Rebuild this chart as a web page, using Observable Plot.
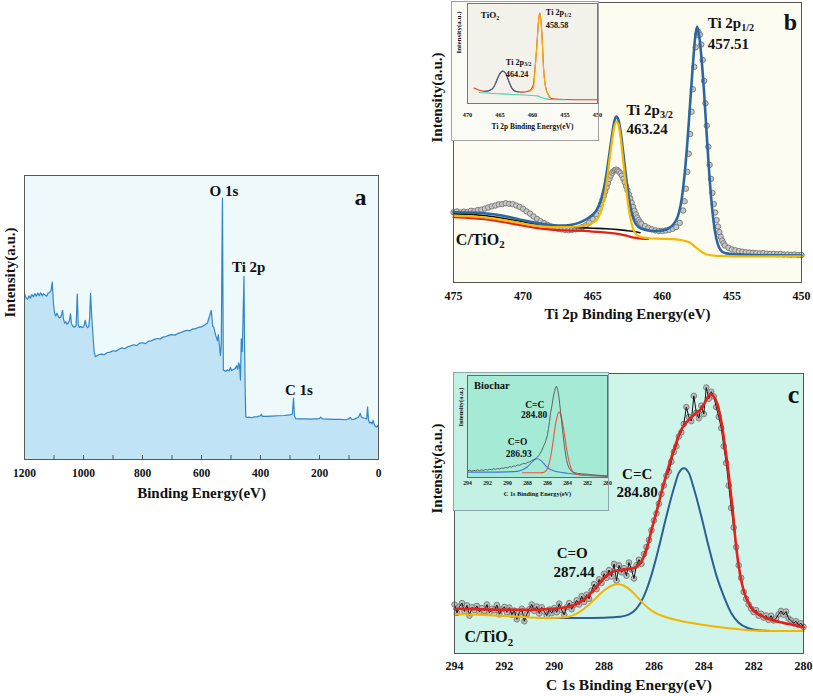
<!DOCTYPE html>
<html><head><meta charset="utf-8">
<script src="https://cdn.jsdelivr.net/npm/d3@7"></script>
<script src="https://cdn.jsdelivr.net/npm/@observablehq/plot@0.6"></script>
<style>
body{margin:0;background:#fff;}
#wrap{position:relative;width:813px;height:696px;overflow:hidden;}
</style></head><body><div id="wrap"></div>
<script>
// ---------------- DATA ----------------
// Panel a: XPS survey (binding energy eV, intensity a.u.)
const surveyPts = [
[1200,58.5],[1195,57],[1190,56.4],[1185,57.6],[1180,56.8],[1175,58.1],[1170,57.3],[1165,58.4],[1160,57.5],[1155,58.6],[1150,57.7],[1145,58.7],[1140,57.6],[1135,58.4],[1130,57.9],[1125,57.5],[1120,58.6],[1115,58.8],[1110,59.5],[1106,62.5],[1102,55],[1098,51.5],[1094,50.5],[1090,51.5],[1086,50.5],[1082,49.8],[1078,50],[1074,51],[1071,52.5],[1068,49.5],[1064,48],[1060,48.5],[1056,47.6],[1052,48],[1048,48.8],[1044,51.3],[1041,48],[1037,47],[1033,46.6],[1029,46.8],[1025,47],[1021,58.2],[1018,47.5],[1014,46.5],[1010,46.8],[1006,46.6],[1002,46.5],[998,47.2],[994,49],[990,47],[986,46.4],[982,46.8],[979,50],[976,58.5],[972,50],[968,44],[964,38],[960,36.2],
[950,36.8],[940,37.1],[930,36.9],[920,37.6],[910,37.8],[900,38.3],[890,38.1],[880,38.8],[870,39.3],[860,39],[850,39.7],[840,40],[830,40.4],[820,40.1],[810,40.9],[800,41.1],[790,40.8],[780,41.6],[770,41.8],[760,42.3],[750,42.6],[740,42.4],[730,43.1],[720,43.3],[710,43.8],[700,44],[690,43.8],[680,44.4],[670,44.7],[660,45.1],[650,45.5],[640,45.3],[630,45.9],[620,46.1],[610,46.5],[600,46.7],[590,47.3],[580,48],[574,50],[567,52.5],[562,47],[558,46.5],[552,43.7],[546,41.8],[543,44],[539,40],[536,36.6],[533,40],[529,92],[526,31.5],[522,31.3],[518,31],[512,31.6],[506,31.2],[502,32.4],[498,31.3],[492,31.7],[486,32],[481,33],[477,31.8],[474,34],[471,33],[468,28],[465,42.5],[462,38],[459,50],[456,64.5],[454,40],[452,25],[450,15],[446,14.8],[440,14.9],[430,14.7],[420,15],[410,15.1],[400,15.4],[397,15.9],[394,15.2],[380,15.2],[360,15.3],[340,15.4],[320,15.5],[300,15.7],[292,16],[288,21.6],[285,15.5],[281,14.4],[270,14.3],[250,14.3],[230,14.2],[200,14.4],[196,14.9],[190,14.3],[170,14.2],[150,14.1],[130,14.1],[110,14],[100,14.3],[96,14.8],[90,14],[80,14.3],[70,14.8],[66,15.2],[62,16.2],[58,14.9],[50,14.6],[40,14.3],[37,18.5],[34,14],[30,12.8],[25,13.2],[22,12.5],[18,13.8],[14,12.2],[10,11.6],[5,11.4],[2,12],[0,11.8]
];
const surveyTickLabels = [1200,1000,800,600,400,200,0];
const surveyMinorTicks = [1200,1100,1000,900,800,700,600,500,400,300,200,100,0];
const surveyPeakLabels = [
  {t:"O 1s", x:524, y:94.5},
  {t:"Ti 2p", x:440, y:67.7},
  {t:"C 1s", x:270, y:24.3}
];
const surveyPanelTag = [{t:"a", x:61, y:92.4}];

// Panel b: Ti 2p of C/TiO2
const tiRaw = [
[475,25.1],[474.75,25.4],[474.5,25],[474.25,25.3],[474,25.2],[473.75,25.6],[473.5,25.4],[473.25,25.9],[473,26],[472.75,26.4],[472.5,26.8],[472.25,27.2],[472,27.5],[471.75,27.9],[471.5,28],[471.25,28.3],[471,28.1],[470.75,28],[470.5,27.5],[470.25,27],[470,26.3],[469.75,25.4],[469.5,24.6],[469.25,23.6],[469,22.7],[468.75,21.9],[468.5,21.2],[468.25,20.6],[468,20],[467.75,19.6],[467.5,19.2],[467.25,19],[467,18.8],[466.75,18.7],[466.5,18.8],[466.25,19],[466,19.2],[465.75,19.8],[465.5,20.4],[465.25,21.4],[465,22.7],[464.75,24.4],
[464.5,26.4],[464.4,28],[464.3,29.5],[464.2,31],[464.1,32.5],[464,34],[463.9,35.5],[463.8,37],[463.7,38.2],[463.6,39.2],[463.5,39.8],[463.4,40.2],[463.3,40.3],[463.2,40],[463.1,39.6],[463,39],[462.9,38.2],[462.8,37],[462.7,35.8],[462.6,34.4],[462.5,33],[462.4,31.5],[462.3,30],[462.2,28.5],[462.1,27],[462,25.6],[461.9,24.3],[461.8,23.2],[461.7,22.3],[461.6,21.5],[461.5,21],
[461.25,20.2],[461,19.5],[460.75,19],[460.5,18.6],[460.25,18.4],[460,18.4],[459.75,18.6],[459.5,18.8],[459.25,19.2],[459,19.8],[458.75,21.3],
[458.5,25.7],[458.4,29],[458.3,33.5],[458.2,39.5],[458.1,46],[458,53],[457.9,61],[457.8,69],[457.7,77],[457.6,84],[457.5,88.5],[457.4,89.5],[457.3,88.5],[457.2,85],[457.1,79.5],[457,72],[456.9,64],[456.8,56],[456.7,48.5],[456.6,42],[456.5,37],[456.4,32],[456.3,28],[456.2,25],[456.1,22.3],[456,20],[455.9,18],[455.8,16.3],[455.7,15],[455.6,14],[455.5,13.2],
[455.25,12.4],[455,11.8],[454.75,11.5],[454.5,11.2],[454.25,11],[454,10.8],[453.75,10.7],[453.5,10.6],[453.25,10.5],[453,10.4],[452.75,10.5],[452.5,10.3],[452.25,10.2],[452,10.2],[451.75,10.1],[451.5,10.2],[451.25,10],[451,10],[450.75,9.9],[450.5,10],[450.25,9.8],[450,9.8]
];
const tiEnvelope = [
[475,25.1],[474,25],[473,24.8],[472,24.3],[471,23.4],[470,22.2],[469,21.2],[468,20.5],[467,20.3],[466.5,20.6],[466,21.3],[465.5,22.5],[465,24.2],[464.7,26],[464.4,29.5],[464.2,33.5],[464,39],[463.8,46],[463.6,53],[463.45,57.5],[463.3,59.3],[463.15,58],[463,54],[462.8,46],[462.6,37.5],[462.4,30],[462.2,24.8],[462,21.8],[461.7,19.8],[461.3,18.9],[461,18.6],[460.5,18.4],[460,18.6],[459.5,19.5],[459.2,20.8],[459,22.3],[458.8,25],[458.6,30],[458.4,38.5],[458.2,50],[458,64],[457.8,78],[457.65,87],[457.5,91.4],[457.35,88],[457.2,81],[457,68],[456.8,52],[456.6,37],[456.4,25.5],[456.2,17.8],[456,13.5],[455.8,11.5],[455.5,10.5],[455,10.1],[454,9.9],[452,9.7],[450,9.6]
];
const tiPeak32 = [
[475,23.9],[474,23.7],[473,23.3],[472,22.7],[471,21.9],[470,21],[469,20.2],[468,19.8],[467,19.8],[466,20],[465.5,20.5],[465,21.3],[464.7,22.5],[464.4,25.5],[464.2,29.5],[464,35.5],[463.8,43.5],[463.6,51],[463.45,55.5],[463.3,57.5],[463.15,56.5],[463,52],[462.8,43],[462.6,34],[462.4,26],[462.2,21],[462,18],[461.7,16.5],[461.3,16],[461,15.8],[460,15.6],[459,15.4],[458.5,15],[458,14.2],[457.6,12.6],[457.2,11],[456.8,10],[456,9.5],[454,9.3],[450,9.3]
];
const tiBgRed = [
[475,23.3],[474,23.1],[473,22.7],[472,22.1],[471,21.2],[470,20.3],[469,19.4],[468,18.9],[467,18.6],[466,18.5],[465,18.2],[464,17.8],[463,17.2],[462.5,16.6],[462,16],[461.5,15.7],[461,15.6]
];
const tiBgBlack = [
[475,24.5],[473,24],[471,22.6],[469,20.8],[467,19.8],[466,19.6],[465,19.4],[464,19.2],[463,18.8],[462.5,18.5],[462,18.2],[461.6,17.8]
];
const tiTickLabels = [475,470,465,460,455,450];
const tiPeakLabels = [
  {t:"Ti 2p_1/2", x:456.74, y:92.5},
  {t:"457.51", x:456.74, y:85.2},
  {t:"Ti 2p_3/2", x:462.58, y:61.4},
  {t:"463.24", x:462.58, y:54.9}
];
const tiSampleLabel = [{t:"C/TiO_2", x:474.83, y:15.2}];
const tiPanelTag = [{t:"b", x:450.8, y:93}];

// Panel b inset: TiO2
const tio2Envelope = [
[469,15.4],[468.5,14],[468,13],[467.5,12.2],[467,12.2],[466.5,13.2],[466,16],[465.6,21.5],[465.1,29],[464.6,32.4],[464.1,30],[463.6,21.5],[463.2,15.5],[462.8,12.8],[462.1,11.6],[461.5,11.4],[460.8,12],[460.3,13.5],[459.9,18],[459.6,36],[459.3,61],[459.1,81],[458.9,90.4],[458.7,83],[458.5,63],[458.3,36],[458,17],[457.5,8],[457.2,5.2],[456.5,4.4],[455,4],[452,3.8],[450,3.8]
];
const tio2Peak32 = [
[467.4,12.2],[467,12.4],[466.5,13.4],[466,16],[465.6,21.5],[465.1,29],[464.6,32.4],[464.1,30],[463.6,21.5],[463.2,15.5],[462.8,12.8],[462.2,11.6]
];
const tio2Peak12 = [
[460.4,12.5],[460,14],[459.8,17.5],[459.6,35],[459.3,60],[459.1,80],[458.9,90],[458.7,82.5],[458.5,62],[458.3,35],[458,16.5],[457.6,9],[457.2,6]
];
const tio2Baseline = [
[468.2,11],[467,10.5],[466,10],[464,9.4],[462,8.8],[460.5,8.2],[459.3,7.6],[458.6,6],[458,4.6],[457,4],[455,3.8]
];
const tio2TickLabels = [470,465,460,455,450];
const tio2PeakLabels = [
  {t:"Ti 2p_1/2", x:457.95, y:91.2},
  {t:"458.58", x:457.95, y:78},
  {t:"Ti 2p_3/2", x:464.1, y:41.5},
  {t:"464.24", x:464.1, y:29.5}
];
const tio2SampleLabel = [{t:"TiO_2", x:467.95, y:88.1}];

// Panel c: C 1s of C/TiO2
const c1sRaw = [
[294,17.5],[293.9,14.5],[293.8,16.8],[293.7,18],[293.6,15],[293.5,17.2],[293.4,13.5],[293.3,16.5],[293.2,15.5],[293.1,17],[293,14.8],[292.9,16.2],[292.8,15.2],[292.7,17.5],[292.6,14.5],[292.5,16],[292.4,15.4],[292.3,17.3],[292.2,14],[292.1,15.8],[292,16.6],[291.9,14.7],[291.8,16.4],[291.7,13.8],[291.6,15.3],[291.5,12.2],[291.4,14.6],[291.3,16],[291.2,11.5],[291.1,14],[291,15.8],[290.9,17.5],[290.8,15.2],[290.7,16.8],[290.6,14.3],[290.5,16.5],[290.4,15],[290.3,13.5],[290.2,15.7],[290.1,14.4],[290,16.2],[289.9,14.7],[289.8,17.8],[289.7,15.5],[289.6,13.8],[289.5,16.5],[289.4,18],[289.3,15.8],[289.2,17.4],[289.1,19],[289,17.5],[288.9,20.5],[288.8,18.4],[288.7,21],[288.6,19.5],[288.5,22.5],[288.4,24.8],[288.3,23],[288.2,26.5],[288.1,25.2],[288,28.5],[287.9,27],[287.8,29.8],[287.7,27.5],[287.6,32],[287.5,26],[287.4,31.5],[287.3,29],[287.2,30.5],[287.1,27.8],[287,32.5],[286.9,30],[286.8,26.8],[286.7,31.5],[286.6,33.5],[286.5,32],[286.4,35.5],[286.3,38],[286.2,40.5],[286.1,44],[286,47.5],[285.9,50],[285.8,53.5],[285.7,57],[285.6,60],[285.5,63.5],[285.4,65],[285.3,68.5],[285.2,72],[285.1,74],[285,77.5],[284.9,79],[284.8,82],[284.7,88],[284.6,84.5],[284.5,83],[284.4,92],[284.3,86],[284.2,84],[284.1,88.5],[284,85.5],[283.9,95],[283.8,91],[283.7,93.5],[283.6,91.8],[283.5,88],[283.4,84.5],[283.3,80.5],[283.2,74],[283.1,68],[283,60],[282.9,52],[282.8,45],[282.7,38],[282.6,31.5],[282.5,27],[282.4,22],[282.3,19.5],[282.2,17.5],[282.1,16],[282,14.8],[281.9,15.5],[281.8,13.5],[281.7,14.2],[281.6,12.8],[281.5,13.6],[281.4,12],[281.3,13.5],[281.2,11.8],[281.1,12.5],[281,14],[280.9,15.2],[280.8,13.8],[280.7,15],[280.6,12.5],[280.5,11.8],[280.4,10.8],[280.3,11.5],[280.2,10.2],[280.1,10.8],[280,9.5]
];
const c1sEnvelope = [
[294,15.9],[293,15.8],[292,15.6],[291,15.6],[290.2,15.9],[289.6,16.4],[289.2,17.3],[288.9,18.7],[288.7,20.1],[288.5,21.8],[288.3,23.7],[288.1,26],[287.9,27.8],[287.7,29],[287.5,29.6],[287.2,30],[286.9,30.3],[286.7,31],[286.5,32.8],[286.3,37],[286.1,44],[285.9,50.5],[285.7,57.5],[285.5,64],[285.3,70],[285.1,75.5],[284.9,80],[284.7,82.5],[284.5,84.3],[284.3,86],[284.1,87.5],[283.9,90.5],[283.75,92.6],[283.6,91.8],[283.45,89],[283.3,83],[283.15,74],[283,64],[282.85,52],[282.7,38],[282.55,28.5],[282.4,22.5],[282.2,18],[282,15.3],[281.7,13.5],[281.4,12.3],[281,11.3],[280.6,10.5],[280,9.4]
];
const c1sCC = [
[290.2,12.7],[289,12.7],[288,12.8],[287.5,13],[287,14],[286.7,16],[286.4,20.5],[286.1,28],[285.8,38],[285.5,49],[285.2,59],[285,64.5],[284.8,66.2],[284.6,64.5],[284.4,59],[284.1,49],[283.8,38],[283.5,28],[283.2,20.5],[282.9,14.5],[282.6,11],[282.2,9],[281.8,8.3],[281,8],[280,8]
];
const c1sCO = [
[294,14.1],[293,13.8],[292,13.4],[291,12.9],[290.2,12.7],[289.5,13],[289.2,13.8],[288.9,15.3],[288.6,17.5],[288.3,20],[288,22.5],[287.7,24.2],[287.44,24.7],[287.2,24.2],[286.9,22.3],[286.6,19.5],[286.3,16.8],[286,14.8],[285.6,13.2],[285,11.8],[284,10.2],[283,9],[282,8.2],[281,8],[280,8]
];
const c1sTickLabels = [294,292,290,288,286,284,282,280];
const c1sPeakLabels = [
  {t:"C=C", x:286.67, y:64.1},
  {t:"284.80", x:286.67, y:57.5},
  {t:"C=O", x:289.28, y:35.7},
  {t:"287.44", x:289.2, y:29}
];
const c1sSampleLabel = [{t:"C/TiO_2", x:293.6, y:5.8}];
const c1sPanelTag = [{t:"c", x:280.4, y:92.6}];

// Panel c inset: Biochar
const biocharRaw = [
[294,6.5],[293.8,7.2],[293.6,6.3],[293.4,7],[293.2,6.6],[293,7.4],[292.8,6.8],[292.6,7.5],[292.4,7],[292.2,7.8],[292,7.2],[291.8,8],[291.6,7.6],[291.4,8.4],[291.2,8],[291,8.8],[290.8,8.4],[290.6,9.2],[290.4,9],[290.2,9.8],[290,9.5],[289.8,10.5],[289.6,10.2],[289.4,11.3],[289.2,11],[289,12.2],[288.8,12],[288.6,13],[288.4,13.8],[288.2,13.5],[288,14.8],[287.8,15.2],[287.6,16.5],[287.4,17.4],[287.2,18.5],[287,20],[286.8,22.5],[286.6,26],[286.4,30.5],[286.2,35],[286,42],[285.9,48],[285.8,55],[285.7,63],[285.6,68],[285.5,74],[285.4,80],[285.3,84],[285.2,88],[285.1,89.5],[285,87],[284.9,82],[284.8,74],[284.7,65],[284.6,56],[284.5,47],[284.4,38],[284.3,30],[284.2,23],[284.1,17.5],[284,13],[283.8,8.5],[283.6,6.2],[283.4,5],[283.2,4.6],[283,4],[282.6,3.6],[282.2,3.4],[281.8,3],[281.4,2.6],[281,2.2],[280.6,1.8],[280.2,1.5],[280,1.3]
];
const biocharCC = [
[288.5,4.6],[287,4.6],[286.5,4.8],[286.2,6],[286,9],[285.8,15],[285.6,25],[285.4,38],[285.2,52],[285,61],[284.85,64.4],[284.7,62],[284.5,54],[284.3,42],[284.1,29],[283.9,18],[283.7,10.5],[283.5,6],[283.2,3.5],[282.8,2.6],[282,2],[280,1.6]
];
const biocharCO = [
[294,5.3],[292,5.3],[290,5.5],[289,6],[288.5,7.5],[288,10.5],[287.6,14.5],[287.3,17.4],[287,18.4],[286.7,17],[286.4,14],[286.1,10.8],[285.8,8.3],[285.4,6.6],[285,5.6],[284,4.2],[283,3],[282,2.2],[280,1.5]
];
const biocharTickLabels = [294,292,290,288,286,284,282,280];
const biocharPeakLabels = [
  {t:"C=C", x:287.27, y:71.5},
  {t:"284.80", x:287.34, y:61},
  {t:"C=O", x:289, y:34.8},
  {t:"286.93", x:288.87, y:23.3}
];
const biocharSampleLabel = [{t:"Biochar", x:293.34, y:90.5}];

// ---------------- RENDER ----------------
const FONT = '"Liberation Serif","Times New Roman",Times,serif';
const pts = a => a.map(([x, y]) => ({x, y}));
const plain = d => String(d);
const wrap = document.getElementById("wrap");
const baseStyle = {fontFamily: FONT, fontWeight: "bold", background: "transparent", color: "#111", overflow: "visible"};

function place(svg, left, top) {
  svg.style.position = "absolute";
  svg.style.left = left + "px";
  svg.style.top = top + "px";
  svg.style.overflow = "visible";
  svg.style.maxWidth = "none";
  wrap.appendChild(svg);
}
function applySubs(svg) {
  svg.querySelectorAll("text").forEach(t => {
    if (t.querySelector("tspan")) return;
    const s = t.textContent;
    const i = s.indexOf("_");
    if (i < 0) return;
    t.textContent = s.slice(0, i);
    const ts = document.createElementNS("http://www.w3.org/2000/svg", "tspan");
    ts.setAttribute("dy", "0.3em");
    ts.style.fontSize = "68%";
    ts.textContent = s.slice(i + 1);
    t.appendChild(ts);
  });
}

// Panel a
const plotA = Plot.plot({
  width: 400, height: 340, marginLeft: 24, marginRight: 22, marginTop: 5, marginBottom: 51,
  style: baseStyle,
  x: {domain: [1200, 0], label: null},
  y: {domain: [0, 100], axis: null},
  marks: [
    Plot.frame({fill: "#edf9fb"}),
    Plot.areaY(pts(surveyPts), {x: "x", y: "y", fill: "#c0e4f5"}),
    Plot.line(pts(surveyPts), {x: "x", y: "y", stroke: "#3386c6", strokeWidth: 1.2}),
    Plot.ruleX(surveyMinorTicks, {x: d => d, y1: 0, y2: 1.4, stroke: "#555"}),
    Plot.frame({stroke: "#5a5a5a"}),
    Plot.axisX(surveyTickLabels, {tickSize: 0, tickPadding: 9, fontSize: 11.5, tickFormat: plain, label: null}),
    Plot.text(["Binding Energy(eV)"], {frameAnchor: "bottom", dy: 38, fontSize: 15}),
    Plot.text(["Intensity(a.u.)"], {frameAnchor: "left", rotate: -90, dx: -14, fontSize: 15}),
    Plot.text(surveyPeakLabels, {x: "x", y: "y", text: "t", fontSize: 15}),
    Plot.text(surveyPanelTag, {x: "x", y: "y", text: "t", fontSize: 24})
  ]
});
place(plotA, 0, 170);

// Panel b
const plotB = Plot.plot({
  width: 393, height: 330, marginLeft: 33, marginRight: 12, marginTop: 2, marginBottom: 48,
  style: baseStyle,
  x: {domain: [475, 450], label: null},
  y: {domain: [0, 100], axis: null},
  marks: [
    Plot.frame({fill: "#fdfcf1"}),
    Plot.dot(pts(tiRaw), {x: "x", y: "y", r: 2.7, fill: "#c6c6c6", stroke: "#7d7d7d", strokeWidth: 1}),
    Plot.line(pts(tiBgRed), {x: "x", y: "y", stroke: "#e3201b", strokeWidth: 2.2, curve: "monotone-x"}),
    Plot.line(pts(tiBgBlack), {x: "x", y: "y", stroke: "#111", strokeWidth: 1.6, curve: "monotone-x"}),
    Plot.line(pts(tiEnvelope), {x: "x", y: "y", stroke: "#2c66a0", strokeWidth: 2.6, curve: "monotone-x"}),
    Plot.line(pts(tiPeak32), {x: "x", y: "y", stroke: "#f6b700", strokeWidth: 2.2, curve: "monotone-x"}),
    Plot.frame({stroke: "#555"}),
    Plot.axisX(tiTickLabels, {tickSize: 0, tickPadding: 9, fontSize: 12, tickFormat: plain, label: null}),
    Plot.text(["Ti 2p Binding Energy(eV)"], {frameAnchor: "bottom", dy: 36, fontSize: 15}),
    Plot.text(["Intensity(a.u.)"], {frameAnchor: "left", rotate: -90, dx: -16, fontSize: 15}),
    Plot.text(tiPeakLabels, {x: "x", y: "y", text: "t", textAnchor: "start", fontSize: 15}),
    Plot.text(tiSampleLabel, {x: "x", y: "y", text: "t", textAnchor: "start", fontSize: 16}),
    Plot.text(tiPanelTag, {x: "x", y: "y", text: "t", fontSize: 24})
  ]
});
applySubs(plotB);
place(plotB, 420, 0);

// Panel b inset
const plotBi = Plot.plot({
  width: 146, height: 138, marginLeft: 15, marginRight: 1, marginTop: 1, marginBottom: 37,
  style: {...baseStyle, background: "#fbfbf5"},
  x: {domain: [470, 450], label: null},
  y: {domain: [0, 100], axis: null},
  marks: [
    Plot.frame({fill: "#f2f2eb"}),
    Plot.line(pts(tio2Envelope), {x: "x", y: "y", stroke: "#e23a20", strokeWidth: 1.1, curve: "monotone-x"}),
    Plot.line(pts(tio2Baseline), {x: "x", y: "y", stroke: "#48d2b2", strokeWidth: 1.1, curve: "monotone-x"}),
    Plot.line(pts(tio2Peak32), {x: "x", y: "y", stroke: "#3a5f9a", strokeWidth: 1.1, curve: "monotone-x"}),
    Plot.line(pts(tio2Peak12), {x: "x", y: "y", stroke: "#f5b000", strokeWidth: 1.1, curve: "monotone-x"}),
    Plot.frame({stroke: "#777"}),
    Plot.axisX(tio2TickLabels, {tickSize: 0, tickPadding: 9, fontSize: 6.3, tickFormat: plain, label: null}),
    Plot.text(["Ti 2p Binding Energy(eV)"], {frameAnchor: "bottom", dy: 25, fontSize: 7.4}),
    Plot.text(["Intensity(a.u.)"], {frameAnchor: "left", rotate: -90, dx: -8.5, fontSize: 7}),
    Plot.text(tio2PeakLabels, {x: "x", y: "y", text: "t", textAnchor: "start", fontSize: 8.2}),
    Plot.text(tio2SampleLabel, {x: "x", y: "y", text: "t", textAnchor: "start", fontSize: 9})
  ]
});
applySubs(plotBi);
plotBi.style.outline = "1px solid #a0a0a0";
place(plotBi, 452, 2);

// Panel c
const plotC = Plot.plot({
  width: 393, height: 336, marginLeft: 34, marginRight: 10, marginTop: 13, marginBottom: 43,
  style: baseStyle,
  x: {domain: [294, 280], label: null},
  y: {domain: [0, 100], axis: null},
  marks: [
    Plot.frame({fill: "#cff5ea"}),
    Plot.dot(pts(c1sRaw), {x: "x", y: "y", r: 2.8, fill: "#bdbdbd", stroke: "#767676", strokeWidth: 0.9}),
    Plot.line(pts(c1sRaw), {x: "x", y: "y", stroke: "#111", strokeWidth: 1}),
    Plot.line(pts(c1sCC), {x: "x", y: "y", stroke: "#2b5f94", strokeWidth: 2, curve: "monotone-x"}),
    Plot.line(pts(c1sCO), {x: "x", y: "y", stroke: "#f5b400", strokeWidth: 2, curve: "monotone-x"}),
    Plot.line(pts(c1sEnvelope), {x: "x", y: "y", stroke: "#e8201a", strokeWidth: 2.6, curve: "monotone-x"}),
    Plot.frame({stroke: "#555"}),
    Plot.axisX(c1sTickLabels, {tickSize: 0, tickPadding: 8, fontSize: 12, tickFormat: plain, label: null}),
    Plot.text(["C 1s Binding Energy(eV)"], {frameAnchor: "bottom", dy: 36, fontSize: 15.5}),
    Plot.text(["Intensity(a.u.)"], {frameAnchor: "left", rotate: -90, dx: -17, fontSize: 15}),
    Plot.text(c1sPeakLabels, {x: "x", y: "y", text: "t", fontSize: 15}),
    Plot.text(c1sSampleLabel, {x: "x", y: "y", text: "t", textAnchor: "start", fontSize: 16}),
    Plot.text(c1sPanelTag, {x: "x", y: "y", text: "t", fontSize: 26})
  ]
});
applySubs(plotC);
place(plotC, 420, 360);

// Panel c inset
const plotCi = Plot.plot({
  width: 154, height: 137, marginLeft: 13, marginRight: 1, marginTop: 2, marginBottom: 33,
  style: {...baseStyle, background: "#c2f1e3"},
  x: {domain: [294, 280], label: null},
  y: {domain: [0, 100], axis: null},
  marks: [
    Plot.frame({fill: "#a4ead4"}),
    Plot.line(pts(biocharCO), {x: "x", y: "y", stroke: "#3a7be0", strokeWidth: 1.1, curve: "monotone-x"}),
    Plot.line(pts(biocharCC), {x: "x", y: "y", stroke: "#e85545", strokeWidth: 1.1, curve: "monotone-x"}),
    Plot.line(pts(biocharRaw), {x: "x", y: "y", stroke: "#555", strokeWidth: 0.9}),
    Plot.frame({stroke: "#667"}),
    Plot.axisX(biocharTickLabels, {tickSize: 0, tickPadding: 3, fontSize: 5.8, tickFormat: plain, label: null}),
    Plot.text(["C 1s Binding Energy(eV)"], {frameAnchor: "bottom", dy: 18, fontSize: 6.3}),
    Plot.text(["Intensity(a.u.)"], {frameAnchor: "left", rotate: -90, dx: -6.5, fontSize: 6.5}),
    Plot.text(biocharPeakLabels, {x: "x", y: "y", text: "t", fontSize: 9.5}),
    Plot.text(biocharSampleLabel, {x: "x", y: "y", text: "t", textAnchor: "start", fontSize: 10.5})
  ]
});
plotCi.style.outline = "1px solid #8aa";
place(plotCi, 454, 373);
</script></body></html>
